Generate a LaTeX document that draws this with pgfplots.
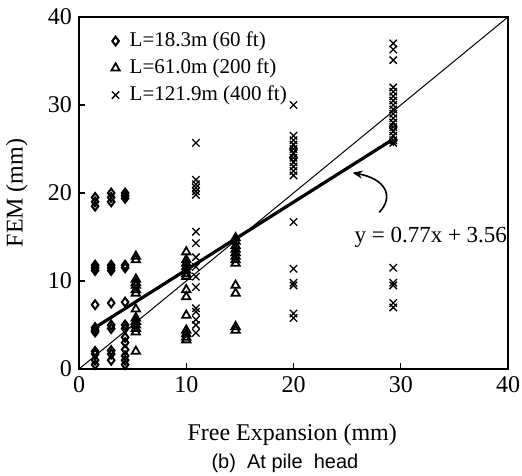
\documentclass[border=0pt]{standalone}
\usepackage{fontspec}
\setmainfont{Liberation Serif}
\newfontfamily\capfont{Liberation Sans}
\usepackage{pgfplots}
\pgfplotsset{compat=1.18}
\usetikzlibrary{arrows.meta}
\begin{document}
\begin{tikzpicture}
\path[use as bounding box] (-39.5pt,-53pt) rectangle (221.5pt,184.5pt);
\begin{axis}[
  at={(0,0)}, anchor=south west,
  scale only axis, width=214.5pt, height=176pt,
  xmin=0, xmax=40, ymin=0, ymax=40,
  xtick={0,10,20,30,40}, ytick={0,10,20,30,40},
  tick pos=left, tick align=inside, major tick length=3pt,
  axis line style={line width=0.6pt}, tick style={line width=0.6pt, black},
  /pgf/number format/assume math mode=true,
  ticklabel style={font=\fontsize{12}{14}\selectfont},
  xlabel={Free Expansion (mm)},
  ylabel={FEM (mm)},
  label style={font=\fontsize{12}{14}\selectfont},
  xlabel style={at={(axis description cs:0.497,-0.1875)}, anchor=center},
  ylabel style={at={(axis description cs:-0.145,0.5)}, anchor=center, rotate=0},
  legend style={draw=none, fill=none, at={(0.07,0.975)}, anchor=north west,
    font=\fontsize{10.5}{12}\selectfont, row sep=0.6pt, inner sep=1pt},
  legend cell align=left,
  clip=false,
]
% 1:1 line
\addplot[black, line width=0.5pt, forget plot] coordinates {(0,0) (40,40)};
% regression
\addplot[black, line width=1.6pt, forget plot] coordinates {(1.5,4.715) (29.3,26.121)};

\addplot[only marks, mark=diamond, mark size=2.2pt, mark options={line width=1pt, black}] coordinates {
(1.5,19.5) (1.5,19.0) (1.5,18.5) (1.5,11.8) (1.5,11.5) (1.5,11.2) (1.5,7.3) (1.5,4.7) (1.5,4.4) (1.5,4.2) (1.5,2.0) (1.5,1.7) (1.5,1.0) (1.5,0.5)
(3.0,20.0) (3.0,19.5) (3.0,19.0) (3.0,11.8) (3.0,11.5) (3.0,11.2) (3.0,7.5) (3.0,5.0) (3.0,4.6) (3.0,2.1) (3.0,1.7) (3.0,1.0)
(4.3,20.0) (4.3,19.7) (4.3,19.4) (4.3,11.8) (4.3,11.5) (4.3,7.6) (4.3,5.0) (4.3,4.6) (4.3,3.6) (4.3,3.0) (4.3,2.2) (4.3,1.5) (4.3,1.0) (4.3,0.5)
(29.3,27.5) (29.3,26.0) (20,25.0) (20,24.0)
};
\addlegendentry{\hspace{3pt}L=18.3m (60 ft)}

\addplot[only marks, mark=triangle, mark size=2.4pt, mark options={line width=0.9pt, black}] coordinates {
(5.3,12.8) (5.3,12.4) (5.3,10.2) (5.3,9.8) (5.3,9.5) (5.3,9.0) (5.3,8.6) (5.3,6.8) (5.3,5.8) (5.3,5.4) (5.3,5.0) (5.3,4.6) (5.3,4.2) (5.3,2.0)
(10,13.3) (10,12.4) (10,12.0) (10,11.6) (10,11.2) (10,10.8) (10,10.5) (10,9.0) (10,8.2) (10,6.1) (10,4.4) (10,4.0) (10,3.6) (10,3.3)
(14.6,14.9) (14.6,14.5) (14.6,14.0) (14.6,13.6) (14.6,13.2) (14.6,12.8) (14.6,12.4) (14.6,12.0) (14.6,9.5) (14.6,8.6) (14.6,4.8) (14.6,4.4)
};
\addlegendentry{\hspace{3pt}L=61.0m (200 ft)}

\addplot[only marks, mark=x, mark size=2.6pt, mark options={line width=0.65pt, black}] coordinates {
(10.9,25.7) (10.9,21.5) (10.9,21.0) (10.9,20.6) (10.9,20.2) (10.9,19.8) (10.9,15.6) (10.9,14.3) (10.9,12.7) (10.9,11.6) (10.9,10.5) (10.9,9.3) (10.9,6.9) (10.9,6.5) (10.9,5.6) (10.9,5.0) (10.9,4.1)
(20,30.0) (20,26.5) (20,26.0) (20,25.5) (20,25.0) (20,24.5) (20,24.0) (20,23.5) (20,23.0) (20,22.5) (20,22.0) (20,16.7) (20,11.4) (20,9.8) (20,9.5) (20,6.3) (20,5.8)
(29.3,37.0) (29.3,36.3) (29.3,35.1) (29.3,32.0) (29.3,31.5) (29.3,31.0) (29.3,30.5) (29.3,30.0) (29.3,29.5) (29.3,29.0) (29.3,28.5) (29.3,28.0) (29.3,27.5) (29.3,27.0) (29.3,26.5) (29.3,26.0) (29.3,25.7) (29.3,11.5) (29.3,9.8) (29.3,9.5) (29.3,7.5) (29.3,7.0)
};
\addlegendentry{\hspace{3pt}L=121.9m (400 ft)}

\draw[-{Stealth[length=5pt,width=4pt]}, line width=0.8pt] (axis cs:28.0,17.8) .. controls (axis cs:29.4,19.6) and (axis cs:28.6,21.6) .. (axis cs:25.5,22.3);
\node[font=\fontsize{11.5}{13}\selectfont] at (axis cs:32.8,15.0) {y = 0.77x + 3.56};
\node[font=\capfont\fontsize{10}{11}\selectfont] at (axis description cs:0.48,-0.267) {(b)\ \ At pile\ \ head};
\end{axis}
\end{tikzpicture}
\end{document}
